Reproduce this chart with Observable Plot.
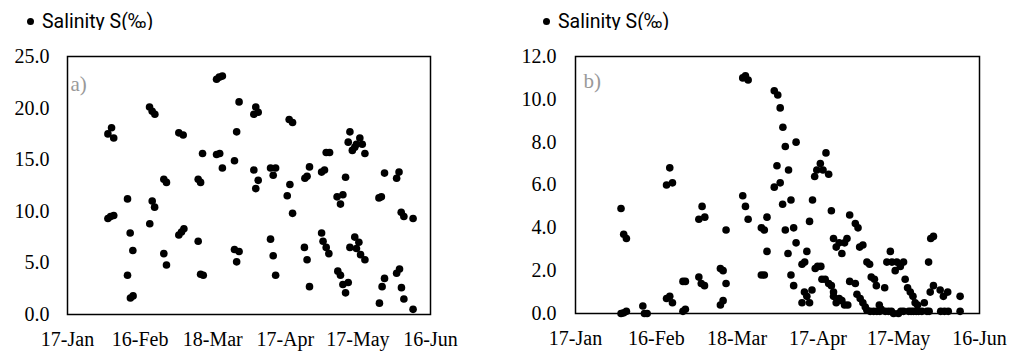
<!DOCTYPE html>
<html><head><meta charset="utf-8">
<script src="https://cdn.jsdelivr.net/npm/d3@7"></script>
<script src="https://cdn.jsdelivr.net/npm/@observablehq/plot@0.6"></script>
<style>
body{margin:0;background:#fff;}
#wrap{position:relative;width:1011px;height:352px;overflow:hidden;}
.legend{position:absolute;top:10px;height:22px;font-family:Roboto,"Open Sans",sans-serif;font-size:19.5px;color:#000;display:flex;align-items:center;white-space:nowrap;}
.legend .mk{display:inline-block;width:7px;height:7px;border-radius:50%;background:#000;margin-right:8px;}
.panel{position:absolute;top:30px;}
</style>
</head><body>
<div id="wrap">
  <div class="legend" id="legA" style="left:27px"><span class="mk"></span><span>Salinity S(‰)</span></div>
  <div class="legend" id="legB" style="left:543px"><span class="mk"></span><span>Salinity S(‰)</span></div>
  <div class="panel" id="pa" style="left:0px"></div>
  <div class="panel" id="pb" style="left:500px"></div>
</div>
<script>
// x axis: day offsets from 17-Jan
const startDate = "2019-01-17";
const endDate = "2019-06-16";
const tickDates = ["2019-01-17","2019-02-16","2019-03-18","2019-04-17","2019-05-17","2019-06-16"];
const panelLabels = ["a)", "b)"];
const legendLabel = "Salinity S(‰)";
const yTicksA = [0,5,10,15,20,25];
const yTicksB = [0,2,4,6,8,10,12];

// Panel a: salinity
const daysA = [
 16.7,18.2,19.1,16.7,17.8,19.1, 24.8,25.9,27.0,24.8,26.0,27.1,
 33.9,35.0,36.1,35.0,36.0,34.0, 39.8,40.9,39.8,40.9,
 46.0,47.8,46.0,47.1,48.1, 54.0,55.0,55.8,54.0,55.0,56.1,
 61.6,62.7,64.0,61.6,62.9,64.0, 70.9,69.9,69.0,69.0,70.9,69.9,
 77.8,77.0,78.8,77.0,78.8,77.8, 83.9,86.0,85.0,83.9,85.0,86.0,
 91.6,93.0,91.9,90.8,93.0, 98.1,99.0,100.0,97.9,99.0,100.0,
 105.0,106.2,106.9,108.3,105.0,105.6,106.9,108.0,
 114.9,111.4,113.8,112.8,111.7,112.8,113.8,116.0,114.9,
 116.7,116.0,117.7,119.4,120.8,121.8,122.9,118.7,
 116.7,118.7,120.4,119.4,121.1,122.9,
 128.7,129.7,131.0,130.0,131.0,128.9,
 136.0,137.0,137.9,139.0,142.8,136.0,137.2,138.0,139.0,142.8
];
const salA = [
 17.5,18.1,17.1,9.3,9.5,9.6, 11.2,7.9,6.2,3.8,1.6,1.8,
 20.1,19.7,19.4,11.0,10.4,8.8, 13.1,12.8,5.9,4.8,
 17.6,17.4,7.7,8.0,8.3, 13.1,12.8,15.6,7.1,3.9,3.8,
 22.8,23.0,23.1,15.5,15.6,14.2, 20.6,17.7,14.9,6.3,6.1,5.1,
 20.1,19.4,19.6,14.0,13.0,12.2, 14.2,14.2,13.5,7.3,5.7,3.8,
 18.9,18.6,12.6,11.5,9.8, 13.2,13.4,14.3,6.5,5.3,2.7,
 13.8,14.0,15.7,15.7,7.9,7.1,6.5,5.9,
 13.3,11.4,11.6,10.7,4.2,3.8,2.9,3.1,2.1,
 17.7,16.7,15.9,16.5,17.1,16.5,15.6,16.2,
 6.5,7.5,7.0,6.4,5.8,5.3,
 11.3,11.4,13.7,2.7,3.5,1.1,
 13.2,13.8,9.9,9.5,9.3,4.0,4.4,2.6,1.5,0.5
];

// Panel b: salinity
const daysB = [
 16.9,17.9,18.9,16.9,17.9,18.9, 25.0,25.6,26.6,
 33.8,35.0,36.0,33.8,35.0,36.0, 39.9,40.8,39.9,40.8,
 45.8,47.0,48.0,45.8,46.7,47.9, 53.8,54.8,55.9,55.9,53.8,54.8,
 62.1,63.1,64.1,62.1,63.1,64.1, 69.0,70.1,71.1,71.1,69.0,70.1,
 73.8,75.1,76.0,77.0,77.9,74.8,76.0,73.8,76.9,77.9,
 79.1,80.0,78.9,80.0,81.0,81.9,81.0,81.9,
 84.1,85.1,85.9,84.1,85.0,85.9,86.9,87.8,
 86.9,88.0,88.8,89.6,90.9,91.9,93.0,94.0,
 89.0,89.9,91.1,91.5,92.7,94.0,95.0,95.8,
 95.0,95.8,96.8,97.9,98.9,99.9,100.8,
 95.8,96.8,97.9,98.9,99.9,101.1,
 101.8,103.9,104.9,105.5,106.7,101.8,103.9,104.5,105.7,106.7,107.6,
 108.2,109.2,109.8,111.0,111.7,108.2,109.4,110.7,111.9,112.8,113.5,114.8,115.0,116.2,
 116.9,115.6,117.5,118.7,119.3,120.6,121.8,118.1,119.9,
 122.4,123.3,124.3,125.3,126.1,127.0,121.8,123.7,125.5,127.4,128.6,129.5,130.5,
 131.1,131.9,132.9,132.9,131.7,131.3,
 135.4,136.6,138.2,135.6,137.0,138.4,142.8,142.8,
 113.0,117.3,120.8,124.6,126.5
];
const salB = [
 4.9,3.7,3.5,0.0,0.03,0.1, 0.35,0.0,0.0,
 6.0,6.8,6.1,0.7,0.8,0.5, 1.5,1.5,0.1,0.2,
 4.4,5.0,4.5,1.7,1.4,1.3, 2.1,2.0,3.9,1.4,0.4,0.6,
 11.0,11.1,10.9,5.5,5.0,4.4, 4.0,3.9,4.5,2.9,1.8,1.8,
 10.4,10.2,9.6,8.7,7.8,6.9,6.1,5.9,5.1,3.9,
 6.7,5.3,2.8,1.8,1.3,8.0,4.0,3.3,
 2.3,2.4,2.9,0.5,1.0,0.8,0.5,1.1,
 4.3,5.3,6.4,6.7,7.0,6.7,7.5,6.5,
 2.1,2.2,2.2,1.6,1.6,1.4,1.3,1.0,
 4.8,3.5,3.1,3.3,2.8,3.3,3.5,
 0.8,0.5,0.7,0.6,0.4,0.4,
 4.6,4.2,4.0,3.1,3.2,1.5,1.4,0.9,0.7,0.5,0.3,
 2.4,2.3,1.7,1.6,1.3,0.15,0.1,0.1,0.1,0.4,0.2,1.2,0.1,0.1,
 2.9,2.4,2.4,2.0,2.4,2.2,2.4,0.0,0.0,
 1.6,1.2,1.0,0.8,0.5,0.4,0.1,0.1,0.1,0.1,0.1,0.5,0.1,
 2.4,3.5,3.6,1.3,1.0,0.1,
 1.1,0.8,1.0,0.1,0.1,0.1,0.8,0.1,
 0.1,0.1,0.1,0.1,0.1
];

const t0 = new Date(startDate + "T00:00:00Z");
const toDate = d => new Date(t0.getTime() + d * 864e5);
const tableA = daysA.map((d, i) => ({date: toDate(d), s: salA[i]}));
const tableB = daysB.map((d, i) => ({date: toDate(d), s: salB[i]}));
const xDomain = [new Date(startDate + "T00:00:00Z"), new Date(endDate + "T00:00:00Z")];
const xTicks = tickDates.map(s => new Date(s + "T00:00:00Z"));
const fmtX = d3.utcFormat("%d-%b");

function panel(table, yDomain, yTicks, label, opts) {
  return Plot.plot({
    width: opts.width, height: 322,
    marginLeft: opts.ml, marginRight: opts.mr, marginTop: 26, marginBottom: opts.mb,
    style: {fontFamily: "'Liberation Serif', 'Times New Roman', serif", fontSize: "20px", color: "#000", background: "#fff", overflow: "visible"},
    x: {type: "utc", domain: xDomain, ticks: xTicks, tickFormat: fmtX, tickSize: 0, tickPadding: 17, label: null},
    y: {domain: yDomain, ticks: yTicks, tickFormat: d => d.toFixed(1), tickSize: 0, tickPadding: opts.yp, label: null},
    marks: [
      Plot.dot(table, {x: "date", y: "s", r: 3.8, fill: "#000", stroke: null}),
      Plot.frame({stroke: "#000", strokeWidth: 1.5}),
      Plot.text([label], {frameAnchor: "top-left", text: d => d, dx: opts.lx, dy: opts.ly, fill: "#999", fontSize: 21, lineAnchor: "top"})
    ]
  });
}

document.getElementById("pa").append(panel(tableA, [0, 25], yTicksA, panelLabels[0], {width: 470, ml: 67, mr: 40, mb: 38, yp: 18, lx: 3, ly: 20}));
document.getElementById("pb").append(panel(tableB, [0, 12], yTicksB, panelLabels[1], {width: 511, ml: 75, mr: 32, mb: 39, yp: 19, lx: 8, ly: 17}));
</script>
</body></html>
